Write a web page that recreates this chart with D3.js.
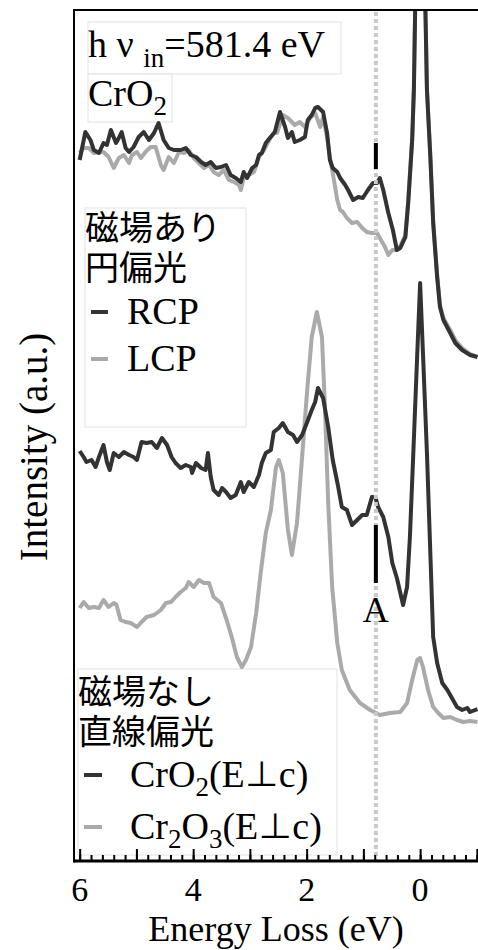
<!DOCTYPE html>
<html lang="ja">
<head>
<meta charset="UTF-8">
<title>CrO2 RIXS</title>
<script src="https://cdn.jsdelivr.net/npm/d3@7/dist/d3.min.js"></script>
<style>
  body { margin: 0; background: #fff; }
  svg text { fill: #000; font-family: "Liberation Serif", "Times New Roman", "DejaVu Serif", serif; }
  svg text.jp, svg tspan.jp { font-family: "Noto Sans CJK JP", sans-serif; }
</style>
</head>
<body>
<svg id="chart" width="478" height="950"></svg>
<script>
  // energy loss (eV), intensity (a.u., spectra stacked with offsets)
  const rcp = [
    [6.00,7.01],[5.90,7.29],[5.81,7.21],[5.75,7.11],[5.66,7.08],[5.58,7.18],[5.52,7.16],[5.45,7.31],
    [5.36,7.18],[5.31,7.23],[5.26,7.29],[5.19,7.13],[5.13,7.09],[5.05,7.14],[4.96,7.24],[4.87,7.29],
    [4.78,7.21],[4.69,7.28],[4.61,7.38],[4.52,7.21],[4.43,7.13],[4.34,7.11],[4.22,7.11],[4.13,7.13],
    [4.04,7.06],[3.95,7.04],[3.86,6.99],[3.78,6.96],[3.69,6.99],[3.60,6.93],[3.51,6.94],[3.42,6.96],
    [3.34,6.86],[3.25,6.83],[3.16,6.79],[3.11,6.89],[3.05,6.83],[2.96,6.93],[2.89,6.96],[2.84,7.06],
    [2.79,7.08],[2.72,7.18],[2.65,7.23],[2.56,7.29],[2.47,7.49],[2.38,7.34],[2.33,7.23],[2.26,7.29],
    [2.21,7.19],[2.12,7.21],[2.03,7.24],[1.98,7.41],[1.91,7.46],[1.85,7.53],[1.80,7.54],[1.71,7.49],
    [1.64,7.28],[1.59,7.01],[1.54,6.93],[1.46,6.89],[1.41,6.83],[1.32,6.76],[1.27,6.71],[1.18,6.61],
    [1.09,6.64],[1.01,6.63],[0.92,6.71],[0.83,6.78],[0.76,6.78],[0.71,6.83],[0.65,6.71],[0.56,6.48],
    [0.48,6.31],[0.41,6.11],[0.35,6.13],[0.26,6.24],[0.21,6.58],[0.14,7.21],[0.11,7.71],[0.06,9.5],
    [0.00,10.5],[-0.06,9.5],[-0.12,7.71],[-0.18,7.04],[-0.23,6.38],[-0.30,5.84],[-0.35,5.54],
    [-0.41,5.41],[-0.53,5.28],[-0.62,5.18],[-0.74,5.11],[-0.88,5.06],[-1.01,5.04]
  ];
  const lcp = [
    [6.00,7.08],[5.93,7.13],[5.84,7.13],[5.75,7.08],[5.66,7.09],[5.58,7.09],[5.49,7.04],[5.40,6.93],
    [5.31,7.03],[5.22,7.06],[5.13,6.98],[5.08,7.06],[4.99,7.09],[4.92,7.03],[4.84,7.09],[4.75,7.14],
    [4.66,7.14],[4.57,6.96],[4.52,6.91],[4.43,7.04],[4.34,6.98],[4.25,7.09],[4.16,7.08],[4.08,7.11],
    [3.99,7.03],[3.90,6.98],[3.81,6.93],[3.72,6.96],[3.64,6.89],[3.55,6.86],[3.46,6.91],[3.37,6.81],
    [3.28,6.79],[3.19,6.76],[3.16,6.71],[3.11,6.83],[3.02,6.86],[2.93,6.89],[2.84,7.04],[2.75,7.11],
    [2.66,7.21],[2.58,7.28],[2.52,7.28],[2.42,7.46],[2.33,7.43],[2.21,7.36],[2.12,7.39],[2.03,7.34],
    [1.94,7.43],[1.85,7.48],[1.76,7.34],[1.71,7.44],[1.64,7.24],[1.59,7.04],[1.54,6.88],[1.46,6.61],
    [1.41,6.51],[1.36,6.49],[1.29,6.43],[1.20,6.38],[1.11,6.39],[1.02,6.33],[0.94,6.29],[0.85,6.28],
    [0.76,6.28],[0.67,6.19],[0.62,6.14],[0.56,6.06],[0.49,6.11],[0.41,6.11],[0.35,6.15],[0.26,6.26],
    [0.21,6.60],[0.14,7.23],[0.11,7.73],[0.06,9.5],[0.00,10.5],[-0.06,9.5],[-0.12,7.73],[-0.18,7.06],
    [-0.23,6.40],[-0.30,5.86],[-0.35,5.56],[-0.41,5.43],[-0.53,5.31],[-0.62,5.21],[-0.74,5.13],
    [-0.88,5.07],[-1.01,5.04]
  ];
  const cro2 = [
    [6.00,4.10],[5.93,4.04],[5.88,3.99],[5.79,4.01],[5.72,3.94],[5.66,4.04],[5.58,4.16],[5.52,3.99],
    [5.47,3.91],[5.40,4.08],[5.31,4.04],[5.22,4.09],[5.13,4.06],[5.05,4.04],[4.99,4.01],[4.91,4.19],
    [4.82,4.18],[4.73,4.19],[4.64,4.13],[4.55,4.23],[4.46,4.16],[4.38,4.04],[4.31,3.98],[4.22,3.93],
    [4.13,3.96],[4.04,3.94],[4.02,3.88],[3.95,3.98],[3.86,3.93],[3.78,3.91],[3.74,4.08],[3.69,3.84],
    [3.64,3.71],[3.55,3.66],[3.49,3.73],[3.42,3.69],[3.34,3.63],[3.25,3.66],[3.16,3.79],[3.11,3.69],
    [3.02,3.79],[2.93,3.74],[2.84,3.86],[2.79,3.98],[2.72,4.08],[2.63,4.11],[2.58,4.29],[2.49,4.33],
    [2.42,4.38],[2.33,4.29],[2.24,4.26],[2.17,4.19],[2.08,4.26],[1.99,4.39],[1.91,4.51],[1.85,4.59],
    [1.80,4.73],[1.71,4.63],[1.62,4.34],[1.54,4.01],[1.45,3.76],[1.38,3.54],[1.29,3.51],[1.20,3.36],
    [1.11,3.41],[1.02,3.46],[0.94,3.46],[0.85,3.64],[0.79,3.64],[0.74,3.54],[0.65,3.44],[0.56,3.24],
    [0.49,2.98],[0.41,2.83],[0.30,2.56],[0.23,2.74],[0.18,3.24],[0.12,4.08],[0.05,5.08],[0.00,5.78],
    [-0.05,5.08],[-0.12,4.08],[-0.18,3.08],[-0.23,2.24],[-0.30,1.98],[-0.39,1.78],[-0.48,1.71],
    [-0.56,1.63],[-0.65,1.54],[-0.74,1.51],[-0.83,1.53],[-0.88,1.49],[-1.01,1.52]
  ];
  const cr2o3 = [
    [6.00,2.53],[5.93,2.59],[5.84,2.53],[5.75,2.54],[5.66,2.53],[5.58,2.61],[5.49,2.54],[5.40,2.58],
    [5.35,2.56],[5.28,2.41],[5.19,2.39],[5.10,2.38],[4.99,2.34],[4.91,2.39],[4.82,2.44],[4.69,2.46],
    [4.57,2.51],[4.48,2.58],[4.39,2.59],[4.31,2.64],[4.22,2.69],[4.13,2.73],[4.08,2.79],[3.99,2.74],
    [3.90,2.81],[3.81,2.78],[3.72,2.78],[3.64,2.64],[3.51,2.58],[3.41,2.41],[3.32,2.24],[3.23,2.04],
    [3.14,1.94],[3.07,2.01],[2.98,2.14],[2.89,2.48],[2.81,2.88],[2.72,3.28],[2.63,3.51],[2.54,3.94],
    [2.49,4.01],[2.42,3.88],[2.33,3.31],[2.26,3.06],[2.17,3.38],[2.08,4.04],[1.99,4.71],[1.91,5.24],
    [1.82,5.49],[1.73,5.24],[1.68,4.58],[1.62,3.58],[1.55,2.74],[1.46,2.18],[1.38,1.91],[1.24,1.71],
    [1.06,1.58],[0.88,1.51],[0.71,1.46],[0.53,1.48],[0.35,1.49],[0.23,1.58],[0.14,1.81],[0.05,2.01],
    [0.00,2.03],[-0.05,1.94],[-0.14,1.71],[-0.23,1.54],[-0.32,1.48],[-0.41,1.43],[-0.53,1.44],
    [-0.65,1.41],[-0.76,1.39],[-0.88,1.40],[-1.01,1.39]
  ];

  const xTicks = [6, 4, 2, 0];
  const featureA = 0.78;        // peak A position (eV)
  const barTop = [7.18, 6.92];  // marker bars (intensity range)
  const barMid = [3.36, 2.78];

  const dark = '#333333', grey = '#aaaaaa';

  const svg = d3.select('#chart');
  const mLeft = 74, mRight = 478, mTop = 10, mBottom = 861;

  const x = d3.scaleLinear().domain([6.1, -1.02]).range([mLeft, mRight]);
  const y = d3.scaleLinear().domain([0, 8.51]).range([mBottom, mTop]);

  // legend boxes (behind the spectra)
  const boxes = [[88, 22, 253, 52], [88, 74, 84, 48], [85, 208, 161, 219], [78, 669, 259, 186]];
  svg.selectAll('rect.box').data(boxes).enter().append('rect')
    .attr('class', 'box')
    .attr('x', d => d[0]).attr('y', d => d[1])
    .attr('width', d => d[2]).attr('height', d => d[3])
    .attr('fill', '#fff').attr('stroke', '#e2e2e2').attr('stroke-width', 1);

  svg.append('clipPath').attr('id', 'plot')
    .append('rect').attr('x', mLeft).attr('y', mTop + 1).attr('width', mRight - mLeft).attr('height', mBottom - mTop);

  const line = d3.line().x(d => x(d[0])).y(d => y(d[1]));
  const g = svg.append('g').attr('clip-path', 'url(#plot)');

  [[lcp, grey], [cr2o3, grey], [rcp, dark], [cro2, dark]].forEach(s => {
    g.append('path').datum(s[0]).attr('d', line)
      .attr('fill', 'none').attr('stroke', s[1]).attr('stroke-width', 4).attr('stroke-linejoin', 'round');
  });

  // dotted guide at peak A
  svg.append('line')
    .attr('x1', x(featureA)).attr('x2', x(featureA))
    .attr('y1', mTop + 2).attr('y2', mBottom)
    .attr('stroke', '#c8c8c8').attr('stroke-width', 4).attr('stroke-dasharray', '4,3');

  [barTop, barMid].forEach(b => {
    svg.append('line')
      .attr('x1', x(featureA)).attr('x2', x(featureA))
      .attr('y1', y(b[0])).attr('y2', y(b[1]))
      .attr('stroke', '#000').attr('stroke-width', 4);
  });
  svg.append('text').attr('x', x(featureA)).attr('y', 622)
    .attr('text-anchor', 'middle').attr('font-size', 36).text('A');

  // axes
  const minor = d3.axisBottom(x).tickValues(d3.range(-1, 6.11, 0.2)).tickSize(-6).tickSizeOuter(0).tickFormat('');
  const major = d3.axisBottom(x).tickValues(d3.range(-1, 7, 1)).tickSize(-12).tickSizeOuter(0).tickFormat('');
  const gMinor = svg.append('g').attr('transform', `translate(0,${mBottom})`).call(minor);
  const gMajor = svg.append('g').attr('transform', `translate(0,${mBottom})`).call(major);
  [gMinor, gMajor].forEach(a => {
    a.select('.domain').remove();
    a.selectAll('.tick line').attr('stroke', '#000').attr('stroke-width', 2);
  });
  svg.append('line').attr('x1', mLeft).attr('x2', mRight).attr('y1', mBottom).attr('y2', mBottom)
    .attr('stroke', '#000').attr('stroke-width', 3);
  svg.append('line').attr('x1', mLeft).attr('x2', mLeft).attr('y1', mTop - 1).attr('y2', mBottom + 1.5)
    .attr('stroke', '#000').attr('stroke-width', 2);
  svg.append('line').attr('x1', mLeft).attr('x2', mRight).attr('y1', mTop).attr('y2', mTop)
    .attr('stroke', '#000').attr('stroke-width', 2);

  svg.selectAll('text.ticklabel').data(xTicks).enter().append('text')
    .attr('class', 'ticklabel')
    .attr('x', d => x(d)).attr('y', 901)
    .attr('text-anchor', 'middle').attr('font-size', 34)
    .text(d => d);

  svg.append('text').attr('x', 276).attr('y', 941)
    .attr('text-anchor', 'middle').attr('font-size', 36).text('Energy Loss (eV)');
  svg.append('text').attr('transform', 'translate(47,447) rotate(-90)')
    .attr('text-anchor', 'middle').attr('font-size', 39).text('Intensity (a.u.)');

  // box 1
  const t1 = svg.append('text').attr('x', 88).attr('y', 57).attr('font-size', 38);
  t1.append('tspan').text('h ν ');
  t1.append('tspan').attr('font-size', 27).attr('dy', 10).text('in');
  t1.append('tspan').attr('dy', -10).text('=581.4 eV');
  const t2 = svg.append('text').attr('x', 88).attr('y', 106).attr('font-size', 38);
  t2.append('tspan').text('CrO');
  t2.append('tspan').attr('font-size', 27).attr('dy', 9).text('2');

  // two-line Japanese captions
  function caption(x0, y0, lines) {
    const t = svg.append('text').attr('class', 'jp').attr('x', x0).attr('y', y0).attr('font-size', 34);
    lines.forEach((s, i) => t.append('tspan').attr('x', x0).attr('dy', i ? 40 : 0).text(s));
  }

  // box 2
  const legendA = [{ label: 'RCP', color: dark }, { label: 'LCP', color: grey }];
  caption(85, 240, ['磁場あり', '円偏光']);
  legendA.forEach((d, i) => {
    const yy = 312 + i * 47;
    svg.append('line').attr('x1', 91).attr('x2', 108).attr('y1', yy).attr('y2', yy)
      .attr('stroke', d.color).attr('stroke-width', 4);
    svg.append('text').attr('x', 127).attr('y', yy + 12).attr('font-size', 38).text(d.label);
  });

  // box 3
  caption(78, 704, ['磁場なし', '直線偏光']);
  const legendB = [
    { parts: [['Cr', 0], ['O', 0], ['2', 1], ['(E', 0], ['⊥', 2], ['c)', 0]], color: dark },
    { parts: [['Cr', 0], ['2', 1], ['O', 0], ['3', 1], ['(E', 0], ['⊥', 2], ['c)', 0]], color: grey }
  ];
  legendB.forEach((d, i) => {
    const yy = 775 + i * 52;
    svg.append('line').attr('x1', 84).attr('x2', 102).attr('y1', yy).attr('y2', yy)
      .attr('stroke', d.color).attr('stroke-width', 4);
    const t = svg.append('text').attr('x', 130).attr('y', yy + 12).attr('font-size', 38);
    let sub = false;
    d.parts.forEach(p => {
      const s = t.append('tspan').text(p[0]);
      const isSub = p[1] === 1;
      if (isSub !== sub) s.attr('dy', isSub ? 9 : -9);
      if (isSub) s.attr('font-size', 27);
      if (p[1] === 2) s.attr('class', 'jp').attr('font-size', 34);
      sub = isSub;
    });
  });
</script>
</body>
</html>
